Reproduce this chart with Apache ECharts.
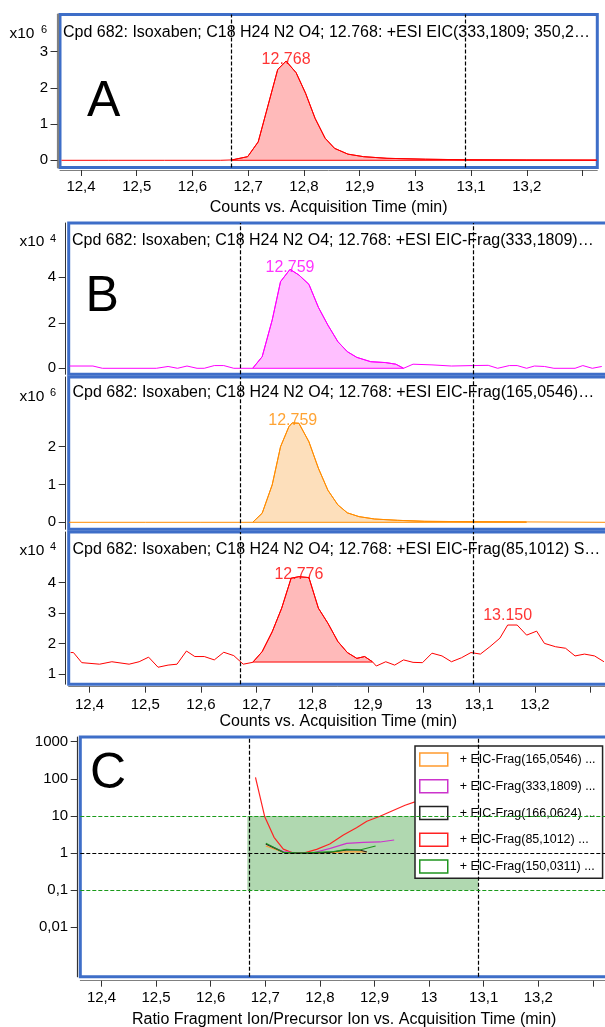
<!DOCTYPE html>
<html>
<head>
<meta charset="utf-8">
<script src="https://cdn.jsdelivr.net/npm/echarts@6/dist/echarts.min.js"></script>
<style>html,body{margin:0;padding:0;background:#fff}#c{width:605px;height:1027px}</style>
</head>
<body>
<div id="c"></div>
<script>
// ---------------- DATA ----------------
const xTickVals  = [12.4, 12.5, 12.6, 12.7, 12.8, 12.9, 13.0, 13.1, 13.2, 13.3];
const xLabelVals = [12.4, 12.5, 12.6, 12.7, 12.8, 12.9, 13.0, 13.1, 13.2];
const windowTimes = [12.667, 13.09];

// Panel A: EIC precursor (x10^6 counts)
const tA = [12.365, 12.45, 12.55, 12.65, 12.671, 12.699, 12.718, 12.753, 12.768, 12.786, 12.803, 12.820, 12.838, 12.855, 12.879, 12.907, 12.949, 13.018, 13.092, 13.2, 13.325];
const vA = [0, 0, 0, 0, 0.01, 0.10, 0.51, 2.51, 2.74, 2.42, 1.85, 1.16, 0.61, 0.33, 0.17, 0.10, 0.055, 0.03, 0.015, 0.008, 0.005];
const yTicksA = [0, 1, 2, 3];
const integA = [12.671, 13.325, 0];
const peakA = [[12.768, 2.74, '12.768']];

// Panel B1: EIC-Frag(333,1809) (x10^4 counts)
const tB1 = [12.364, 12.406, 12.423, 12.520, 12.541, 12.558, 12.575, 12.593, 12.606, 12.624, 12.641, 12.659, 12.693, 12.710, 12.728, 12.743, 12.760, 12.776, 12.794, 12.811, 12.828, 12.846, 12.863, 12.880, 12.905, 12.932, 12.950, 12.964, 12.981, 13.015, 13.050, 13.088, 13.116, 13.133, 13.154, 13.168, 13.185, 13.199, 13.217, 13.234, 13.272, 13.286, 13.303, 13.320];
const vB1 = [0.10, 0.10, 0, 0, 0.08, 0, 0.10, 0, 0, 0.12, 0.12, 0, 0, 0.51, 2.12, 3.81, 4.35, 4.10, 3.69, 2.68, 1.90, 1.17, 0.73, 0.48, 0.29, 0.25, 0.18, 0, 0.18, 0.15, 0.10, 0.12, 0.13, 0, 0.12, 0.12, 0, 0.10, 0.08, 0, 0, 0.12, 0, 0.08];
const yTicksB1 = [0, 2, 4];
const integB1 = [12.693, 12.964, 0];
const peakB1 = [[12.760, 4.35, '12.759']];

// Panel B2: EIC-Frag(165,0546) (x10^6 counts)
const tB2 = [12.363, 12.5, 12.6, 12.693, 12.710, 12.728, 12.743, 12.758, 12.764, 12.776, 12.794, 12.811, 12.828, 12.846, 12.863, 12.884, 12.912, 12.953, 13.002, 13.090, 13.185, 13.326];
const vB2 = [0, 0, 0, 0, 0.24, 0.99, 2.0, 2.53, 2.63, 2.62, 2.13, 1.43, 0.85, 0.46, 0.25, 0.15, 0.087, 0.053, 0.026, 0.016, 0.01, 0];
const yTicksB2 = [0, 1, 2];
const integB2 = [12.693, 13.185, 0];
const peakB2 = [[12.765, 2.63, '12.759']];

// Panel B3: EIC-Frag(85,1012) (x10^4 counts)
const tB3 = [12.366, 12.371, 12.386, 12.418, 12.440, 12.471, 12.489, 12.506, 12.523, 12.541, 12.557, 12.574, 12.589, 12.606, 12.624, 12.641, 12.659, 12.676, 12.693, 12.710, 12.728, 12.745, 12.762, 12.776, 12.794, 12.811, 12.828, 12.846, 12.863, 12.880, 12.894, 12.908, 12.915, 12.932, 12.948, 12.964, 12.981, 12.998, 13.015, 13.033, 13.050, 13.068, 13.085, 13.102, 13.119, 13.137, 13.151, 13.168, 13.185, 13.203, 13.217, 13.237, 13.255, 13.272, 13.289, 13.307, 13.324];
const vB3 = [1.71, 1.71, 1.38, 1.33, 1.41, 1.33, 1.41, 1.56, 1.23, 1.30, 1.33, 1.76, 1.58, 1.58, 1.47, 1.72, 1.61, 1.33, 1.39, 1.74, 2.39, 3.16, 4.14, 4.19, 4.16, 3.16, 2.67, 2.07, 1.71, 1.52, 1.58, 1.41, 1.27, 1.41, 1.30, 1.47, 1.39, 1.38, 1.69, 1.60, 1.41, 1.54, 1.71, 1.66, 1.90, 2.18, 2.61, 2.61, 2.28, 2.41, 2.01, 1.90, 1.85, 1.60, 1.66, 1.60, 1.41];
const yTicksB3 = [1, 2, 3, 4];
const integB3 = [12.693, 12.908, 1.40];
const peakB3 = [[12.776, 4.19, '12.776'], [13.151, 2.61, '13.150']];

// Panel C: ratio fragment / precursor (log)
const yTicksC = [0.01, 0.1, 1, 10, 100, 1000];
const tolBand = [0.1, 10];
const ratioNames = ['+ EIC-Frag(165,0546) ...', '+ EIC-Frag(333,1809) ...', '+ EIC-Frag(166,0624) ...', '+ EIC-Frag(85,1012) ...', '+ EIC-Frag(150,0311) ...'];
const tC165 = [12.701, 12.733, 12.764, 12.794, 12.825, 12.849, 12.886];
const vC165 = [1.55, 1.05, 1.0, 1.0, 1.05, 1.07, 1.07];
const tC333 = [12.701, 12.733, 12.758, 12.788, 12.819, 12.849, 12.880, 12.910, 12.936];
const vC333 = [1.75, 1.09, 1.0, 1.02, 1.34, 1.83, 1.95, 1.99, 2.25];
const tC166 = [12.701, 12.733, 12.758, 12.788, 12.819, 12.849, 12.873, 12.886];
const vC166 = [1.75, 1.05, 1.0, 1.0, 1.05, 1.21, 1.21, 1.07];
const tC85 = [12.682, 12.699, 12.716, 12.733, 12.751, 12.770, 12.794, 12.818, 12.843, 12.867, 12.886, 12.910, 12.956, 12.974];
const vC85 = [110, 9.5, 2.65, 1.28, 1.0, 1.0, 1.26, 1.75, 3.05, 4.8, 7.2, 9.8, 19.4, 24];
const tC150 = [12.701, 12.733, 12.764, 12.794, 12.825, 12.849, 12.873, 12.902];
const vC150 = [1.83, 1.05, 1.0, 1.05, 1.09, 1.26, 1.21, 1.55];

const headerA  = 'Cpd 682: Isoxaben; C18 H24 N2 O4; 12.768: +ESI EIC(333,1809; 350,2…';
const headerB1 = 'Cpd 682: Isoxaben; C18 H24 N2 O4; 12.768: +ESI EIC-Frag(333,1809)…';
const headerB2 = 'Cpd 682: Isoxaben; C18 H24 N2 O4; 12.768: +ESI EIC-Frag(165,0546)…';
const headerB3 = 'Cpd 682: Isoxaben; C18 H24 N2 O4; 12.768: +ESI EIC-Frag(85,1012) S…';
const xNameAB = 'Counts vs. Acquisition Time (min)';
const xNameC  = 'Ratio Fragment Ion/Precursor Ion vs. Acquisition Time (min)';

// ---------------- BUILD ----------------
const FONT = "'Liberation Sans', Arial, Helvetica, sans-serif";
const BLUE = '#3e6ec8';
const zip = (t, v) => t.map((x, i) => [x, v[i]]);
const commaFmt = v => String(+Number(v).toFixed(3)).replace('.', ',');

function txt(text, left, top, size, color) {
  return { text, left, top, padding: 0,
    textStyle: { fontSize: size, fontWeight: 'normal', color: color || '#000', fontFamily: FONT } };
}

function gridBox(left, top, width, height) {
  return { left, top, width, height, show: true, borderColor: BLUE, borderWidth: 3,
    backgroundColor: 'transparent', containLabel: false, outerBoundsMode: 'none' };
}

function xAx(gridIndex, min, max, show, offset, name, nameGap, labelMargin) {
  return { type: 'value', gridIndex, min, max, show, offset, position: 'bottom',
    splitLine: { show: false },
    axisLine: { show: true, onZero: false, lineStyle: { color: '#808080', width: 1 } },
    axisTick: { show: true, length: 6, customValues: xTickVals, lineStyle: { color: '#333', width: 1 } },
    axisLabel: { customValues: xLabelVals, formatter: commaFmt, fontSize: 15, color: '#000', margin: labelMargin, fontFamily: FONT },
    name, nameLocation: 'middle', nameGap, nameMoveOverlap: false,
    nameTextStyle: { fontSize: 16, color: '#000', fontFamily: FONT } };
}

function yAx(gridIndex, type, min, max, ticks, offset, lineColor, lineWidth) {
  const o = { type, gridIndex, min, max, offset, position: 'left',
    splitLine: { show: false },
    axisLine: { show: true, onZero: false, lineStyle: { color: lineColor, width: lineWidth } },
    axisTick: { show: true, length: 7, customValues: ticks, lineStyle: { color: '#333', width: 1 } },
    axisLabel: { customValues: ticks, formatter: commaFmt, fontSize: 15, color: '#000', margin: 9.5, fontFamily: FONT } };
  if (type === 'log') o.logBase = 10;
  return o;
}

const dashV = { type: [4, 2], color: '#000', width: 1.2 };

function chromSeries(idx, t, v, integ, peaks, color, fill) {
  const data = zip(t, v);
  const seg = data.filter(p => p[0] >= integ[0] - 1e-9 && p[0] <= integ[1] + 1e-9);
  return [
    { type: 'line', xAxisIndex: idx, yAxisIndex: idx, data, showSymbol: false, symbol: 'none',
      lineStyle: { color, width: 1 }, z: 3,
      markLine: { silent: true, symbol: 'none', label: { show: false }, lineStyle: dashV,
        data: windowTimes.map(x => ({ xAxis: x })) } },
    { type: 'line', xAxisIndex: idx, yAxisIndex: idx, data: seg, showSymbol: false, symbol: 'none',
      lineStyle: { color, width: 1 }, areaStyle: { color: fill, opacity: 1, origin: integ[2] }, z: 2 },
    { type: 'line', xAxisIndex: idx, yAxisIndex: idx, data: [[integ[0], integ[2]], [integ[1], integ[2]]],
      showSymbol: false, symbol: 'none', lineStyle: { color, width: 1 }, z: 3 },
    { type: 'scatter', xAxisIndex: idx, yAxisIndex: idx, symbolSize: 1, itemStyle: { color: 'rgba(0,0,0,0)' }, z: 5,
      data: peaks.map((p, i) => ({ value: [p[0], p[1]], name: p[2],
        label: { offset: [0, i === 0 ? -2 : -9] } })),
      label: { show: true, position: 'inside', formatter: '{b}', color, fontSize: 16, fontFamily: FONT } }
  ];
}

const ratioColors = ['#ff9a2e', '#cc33cc', '#222222', '#ff2222', '#1f951f'];
const ratioData = [zip(tC165, vC165), zip(tC333, vC333), zip(tC166, vC166), zip(tC85, vC85), zip(tC150, vC150)];
const drawOrder = [3, 0, 1, 2, 4];

const seriesC = [
  { type: 'line', xAxisIndex: 4, yAxisIndex: 4, data: [], z: 1, silent: true,
    markArea: { silent: true, itemStyle: { color: '#b0d8b0' },
      data: [[{ xAxis: windowTimes[0], yAxis: tolBand[0] }, { xAxis: windowTimes[1], yAxis: tolBand[1] }]] },
    markLine: { silent: true, symbol: 'none', label: { show: false },
      data: [
        ...windowTimes.map(x => ({ xAxis: x, lineStyle: dashV })),
        ...tolBand.map(y => ({ yAxis: y, lineStyle: { type: [4, 2], color: '#1a9a1a', width: 1.2 } })),
        { yAxis: 1, lineStyle: dashV }
      ] } },
  ...drawOrder.map(i => ({ type: 'line', name: ratioNames[i], xAxisIndex: 4, yAxisIndex: 4,
    data: ratioData[i], showSymbol: false, symbol: 'none', z: 3,
    itemStyle: { color: ratioColors[i] }, lineStyle: { color: ratioColors[i], width: 1.2 } }))
];

const option = {
  animation: false,
  backgroundColor: '#fff',
  textStyle: { fontFamily: FONT },
  title: [
    txt('A', 87, 77, 50), txt('B', 85.5, 272.5, 50), txt('C', 90, 749.5, 50),
    txt(headerA, 63, 24.5, 16), txt(headerB1, 72, 233, 16), txt(headerB2, 72.5, 385, 16), txt(headerB3, 72.5, 542, 16),
    txt('x10', 9.5, 25.8, 15.5), txt('6', 41, 24.6, 11),
    txt('x10', 19.5, 234.1, 15.5), txt('4', 50, 233, 11),
    txt('x10', 19.5, 388.5, 15.5), txt('6', 50, 387.3, 11),
    txt('x10', 19.5, 542.5, 15.5), txt('4', 50, 541.3, 11)
  ],
  legend: {
    orient: 'vertical', left: 415, top: 746,
    data: ratioNames.map((n, i) => ({ name: n, icon: 'rect',
      itemStyle: { color: '#fff', borderColor: ratioColors[i], borderWidth: 1.5 } })),
    itemWidth: 28, itemHeight: 13, itemGap: 12.25,
    padding: [6.3, 7, 4.4, 4],
    backgroundColor: '#fff', borderColor: '#222', borderWidth: 1.5,
    textStyle: { fontSize: 12.5, color: '#000', fontFamily: FONT, padding: [0, 0, 0, 7] },
    selectedMode: false
  },
  grid: [
    gridBox(60, 14.5, 537.3, 153),
    gridBox(68.7, 223, 539.3, 151.3),
    gridBox(68.7, 377, 539.3, 152.3),
    gridBox(68.7, 532, 539.3, 152.2),
    gridBox(80.3, 737, 527.7, 239.7)
  ],
  xAxis: [
    xAx(0, 12.36232, 13.32642, true, 2.5, xNameAB, 30, 9.5),
    xAx(1, 12.36248, 13.33119, false, 0, '', 0, 8),
    xAx(2, 12.36248, 13.33119, false, 0, '', 0, 8),
    xAx(3, 12.36248, 13.33119, true, 2.5, xNameAB, 27, 10.5),
    xAx(4, 12.36117, 13.32766, true, 4, xNameC, 30.5, 9.5)
  ],
  yAxis: [
    yAx(0, 'value', -0.199, 4.028, yTicksA, 2.5, '#808080', 2.2),
    yAx(1, 'value', -0.264, 6.387, yTicksB1, 3, '#333', 1),
    yAx(2, 'value', -0.185, 3.844, yTicksB2, 3, '#333', 1),
    yAx(3, 'value', 0.676, 5.650, yTicksB3, 3, '#333', 1),
    yAx(4, 'log', 0.000467, 1338.6, yTicksC, 2.6, '#333', 1.2)
  ],
  series: [
    ...chromSeries(0, tA, vA, integA, peakA, '#ff0000', '#ffbaba'),
    ...chromSeries(1, tB1, vB1, integB1, peakB1, '#ff00ff', '#ffbfff'),
    ...chromSeries(2, tB2, vB2, integB2, peakB2, '#ff8c00', '#fddfbb'),
    ...chromSeries(3, tB3, vB3, integB3, peakB3, '#ff0000', '#ffbaba'),
    ...seriesC
  ]
};

const chart = echarts.init(document.getElementById('c'), null, { renderer: 'canvas' });
chart.setOption(option);
</script>
</body>
</html>
